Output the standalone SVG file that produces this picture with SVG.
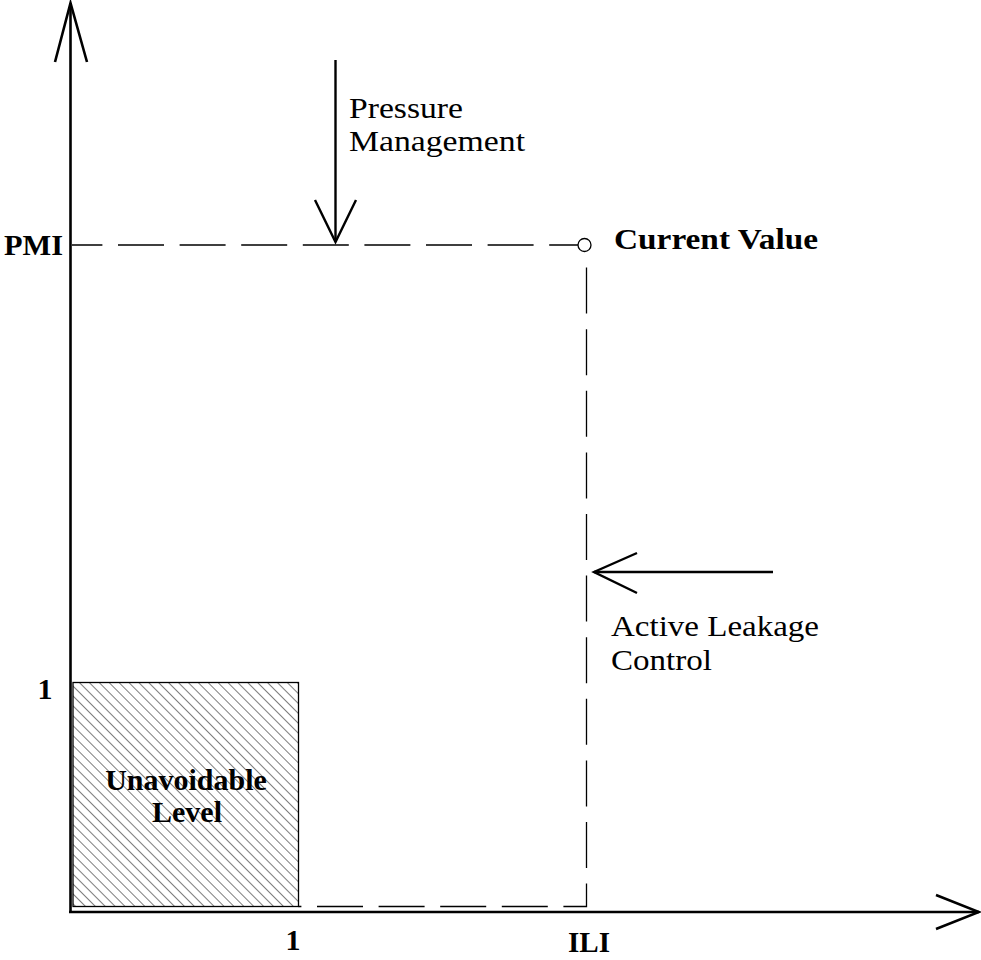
<svg xmlns="http://www.w3.org/2000/svg" width="981" height="960" viewBox="0 0 981 960">
<style>
.bold{font-family:"Liberation Serif","Times New Roman",serif;font-weight:bold;font-size:30px;fill:#000}
.reg{font-family:"Liberation Serif","Times New Roman",serif;font-size:30px;fill:#000}
.axis{stroke:#000;stroke-width:2.6;fill:none}
.arrow{stroke:#000;stroke-width:2.4;fill:none}
.dash{stroke:#000;stroke-width:1.3;fill:none;stroke-dasharray:46 15.6}
</style>
<defs>
<pattern id="hatch" patternUnits="userSpaceOnUse" width="7" height="7" patternTransform="rotate(-45)">
<line x1="0" y1="0" x2="0" y2="7" stroke="#444" stroke-width="1.4"/>
</pattern>
</defs>
<rect width="981" height="960" fill="#fff"/>
<g id="unavoidable-level">
<rect x="73" y="682.5" width="225.5" height="224" fill="url(#hatch)" stroke="#000" stroke-width="1.3"/>
<text class="bold" x="186" y="790" text-anchor="middle">Unavoidable</text>
<text class="bold" x="187" y="822" text-anchor="middle">Level</text>
</g>
<g id="connectors">
<path class="dash" d="M72,245 H578" stroke-dashoffset="15.6"/>
<path class="dash" d="M586.5,252 V906.5 H298.5" stroke-dashoffset="46"/>
<path class="axis" d="M70.5,3 V913"/>
<path class="axis" d="M55,62 L70.5,3 L87,62"/>
<path class="axis" d="M69,912 H979"/>
<path class="axis" d="M936,895 L979,912 L936,929"/>
<path class="arrow" d="M335.5,60 V242"/>
<path class="arrow" d="M315,200 L335.5,242 L356,200"/>
<path class="arrow" d="M773,572 H594"/>
<path class="arrow" d="M637,553 L594,572 L637,593"/>
</g>
<g id="current-value">
<circle cx="584.5" cy="245" r="6.5" fill="#fff" stroke="#000" stroke-width="1.3"/>
<text class="bold" x="614" y="249" textLength="204" lengthAdjust="spacingAndGlyphs">Current Value</text>
</g>
<g id="pmi-label"><text class="bold" x="4" y="255" textLength="59" lengthAdjust="spacingAndGlyphs">PMI</text></g>
<g id="y-one"><text class="bold" x="45" y="699" text-anchor="middle">1</text></g>
<g id="x-one"><text class="bold" x="293" y="950" text-anchor="middle">1</text></g>
<g id="ili-label"><text class="bold" x="568" y="952" textLength="42" lengthAdjust="spacingAndGlyphs">ILI</text></g>
<g id="pressure-management">
<text class="reg" x="349" y="118" textLength="114" lengthAdjust="spacingAndGlyphs">Pressure</text>
<text class="reg" x="349" y="151" textLength="176" lengthAdjust="spacingAndGlyphs">Management</text>
</g>
<g id="active-leakage-control">
<text class="reg" x="611" y="636" textLength="208" lengthAdjust="spacingAndGlyphs">Active Leakage</text>
<text class="reg" x="611" y="670" textLength="101" lengthAdjust="spacingAndGlyphs">Control</text>
</g>
</svg>
